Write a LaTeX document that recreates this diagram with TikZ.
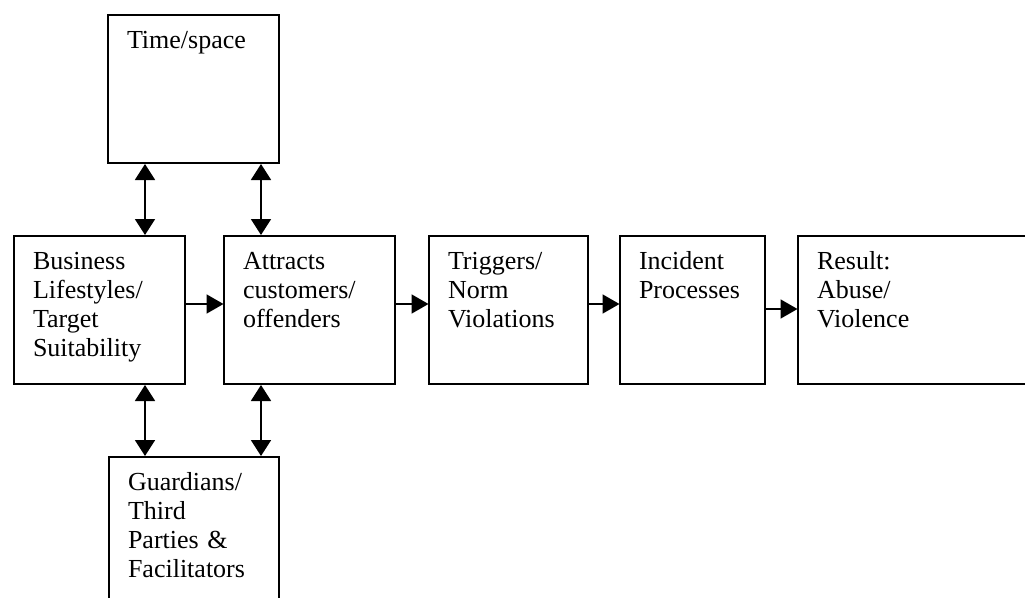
\documentclass[tikz,border=0pt]{standalone}
\usepackage{fontspec}
\setmainfont{Liberation Serif}
\usetikzlibrary{arrows.meta,positioning}
\tikzset{
    box/.style = {draw=black, line width=2pt, anchor=north west, align=left,
        inner xsep=19pt, inner ysep=15pt, text height=18pt, text depth=100pt,
        text width=#1, font=\fontsize{26}{29}\selectfont},
    flow/.style = {line width=1.8pt, -{Triangle[length=17pt,width=19pt]}, shorten >=-0.5pt},
    link/.style = {line width=1.8pt, {Triangle[length=16pt,width=20pt]}-{Triangle[length=16pt,width=20pt]}}
}
\begin{document}
\begin{tikzpicture}[x=1pt, y=-1pt]
    \useasboundingbox (0,0) rectangle (1025,597);
    \clip (0,0) rectangle (1025,597);
    % main chain
    \node [box=133pt] (biz) at (13,235) {Business\\Lifestyles/\\Target\\Suitability};
    \node [box=133pt, right=37pt of biz] (att) {Attracts\\customers/\\offenders};
    \node [box=121pt, right=32pt of att] (trig) {Triggers/\\Norm\\Violations};
    \node [box=107pt, right=30pt of trig] (inc) {Incident\\Processes};
    \node [box=212pt, right=31pt of inc] (res) {Result:\\Abuse/\\Violence};
    % above and below
    \node [box=133pt] (time) at (107,14) {Time/space};
    \node [box=132pt] (guard) at (108,456) {Guardians/\\Third\\Parties \&\\Facilitators};
    \draw [flow] ([yshift=6pt]biz.east) -- ([yshift=6pt]biz.east -| att.west);
    \draw [flow] ([yshift=6pt]att.east) -- ([yshift=6pt]att.east -| trig.west);
    \draw [flow] ([yshift=6pt]trig.east) -- ([yshift=6pt]trig.east -| inc.west);
    \draw [flow] ([yshift=1pt]inc.east) -- ([yshift=1pt]inc.east -| res.west);
    \draw [link] ([xshift=38pt]time.south west) -- ([xshift=38pt]time.south west |- biz.north);
    \draw [link] ([xshift=38pt]att.north west |- time.south) -- ([xshift=38pt]att.north west);
    \draw [link] ([xshift=132pt]biz.south west) -- ([xshift=132pt]biz.south west |- guard.north);
    \draw [link] ([xshift=38pt]att.south west) -- ([xshift=38pt]att.south west |- guard.north);
\end{tikzpicture}
\end{document}
